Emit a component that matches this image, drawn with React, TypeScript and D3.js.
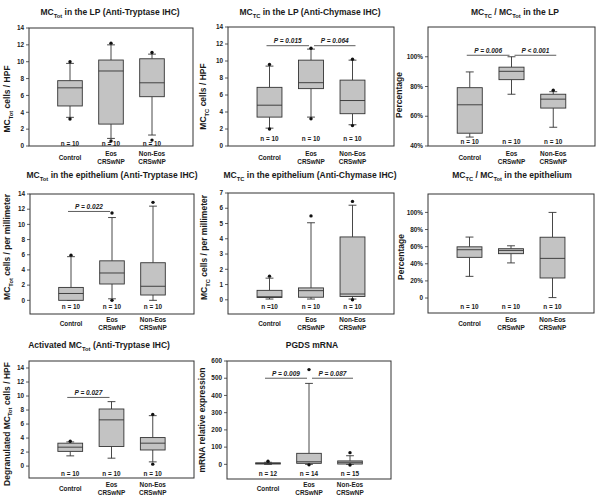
import React from "react";
import * as d3 from "d3";

const FONT = "'Liberation Sans', Arial, Helvetica, sans-serif";

const categories = ["Control", "Eos CRSwNP", "Non-Eos CRSwNP"];
const categoryLines = [["Control"], ["Eos", "CRSwNP"], ["Non-Eos", "CRSwNP"]];

// Box statistics per category: [lower whisker, Q1, median, Q3, upper whisker]
const lpTotStats = [[3.4, 4.75, 6.9, 7.75, 9.8], [0.9, 2.6, 8.9, 10.2, 12.0], [1.3, 5.85, 7.5, 10.35, 10.9]];
const lpTotOutliers = [[3.2, 10.0], [0.6, 12.2], [0.7, 11.1]];
const lpTotN = ["n = 10", "n = 10", "n = 10"];
const lpTotTicks = [0, 2, 4, 6, 8, 10, 12, 14];

const lpTcStats = [[2.1, 3.4, 4.8, 6.9, 9.4], [3.4, 6.75, 7.45, 10.1, 11.4], [2.5, 3.8, 5.35, 7.75, 10.1]];
const lpTcOutliers = [[2.0, 9.6], [3.2, 11.5], [2.4, 10.2]];
const lpTcN = ["n = 10", "n = 10", "n = 10"];
const lpTcTicks = [0, 2, 4, 6, 8, 10, 12, 14];
const lpTcP = [{ from: 0, to: 1, value: 11.8, label: "P = 0.015" }, { from: 1, to: 2, value: 11.8, label: "P = 0.064" }];

const lpRatioStats = [[46, 48.6, 67.7, 79.2, 89.8], [74.8, 84.6, 90.2, 93, 100], [52.6, 65.5, 71.5, 74.8, 76.5]];
const lpRatioOutliers = [[], [], [77.5]];
const lpRatioN = ["n = 10", "n = 10", "n = 10"];
const lpRatioTicks = [40, 60, 80, 100];
const lpRatioP = [{ from: 0, to: 1, value: 101, label: "P = 0.006" }, { from: 1, to: 2, value: 101, label: "P < 0.001" }];

const epTotStats = [[0, 0, 0.9, 1.7, 5.75], [0.2, 2.15, 3.6, 5.2, 10.9], [0, 0.7, 1.85, 4.95, 12.4]];
const epTotOutliers = [[5.95], [0.0, 11.5], [12.9]];
const epTotN = ["n = 10", "n = 10", "n = 10"];
const epTotTicks = [0, 2, 4, 6, 8, 10, 12, 14];
const epTotP = [{ from: 0, to: 1, value: 11.7, label: "P = 0.022" }];

const epTcStats = [[0.05, 0.15, 0.2, 0.62, 1.42], [0.05, 0.17, 0.6, 0.78, 5.05], [0.05, 0.22, 0.38, 4.12, 6.2]];
const epTcOutliers = [[1.55], [5.5], [0.0, 6.45]];
const epTcN = ["n =10", "n = 10", "n = 10"];
const epTcTicks = [0, 1, 2, 3, 4, 5, 6, 7];

const epRatioStats = [[25.3, 47.5, 56.4, 59.8, 71.2], [41, 51.8, 55.6, 57.6, 61], [0.5, 23.4, 46.3, 71, 100]];
const epRatioOutliers = [[], [], []];
const epRatioN = ["n = 10", "n = 10", "n = 10"];
const epRatioTicks = [0, 20, 40, 60, 80, 100];

const actTotStats = [[1.46, 2.1, 2.7, 3.27, 3.45], [1.13, 2.8, 6.6, 8.15, 9.2], [0.6, 2.3, 3.27, 4.07, 7.2]];
const actTotOutliers = [[3.55], [], [0.28, 7.38]];
const actTotN = ["n = 10", "n = 10", "n = 10"];
const actTotTicks = [0, 2, 4, 6, 8, 10, 12, 14];
const actTotP = [{ from: 0, to: 1, value: 9.8, label: "P = 0.027" }];

const pgdsStats = [[0, 2, 5, 9, 12], [0, 6, 15, 64, 470], [0, 2, 12, 20, 50]];
const pgdsOutliers = [[18], [-3, 550], [-4, 68]];
const pgdsN = ["n = 12", "n = 14", "n = 15"];
const pgdsTicks = [0, 100, 200, 300, 400, 500, 600];
const pgdsP = [{ from: 0, to: 1, value: 500, label: "P = 0.009" }, { from: 1, to: 2, value: 500, label: "P = 0.087" }];

const pct = (v: number) => (v === 0 ? "0" : `${v}%`);
const num = (v: number) => `${v}`;

type Part = { t: string; sub?: boolean };

const panels = [
  {
    title: [{ t: "MC" }, { t: "Tot", sub: true }, { t: " in the LP (Anti-Tryptase IHC)" }],
    ylabel: [{ t: "MC" }, { t: "Tot", sub: true }, { t: " cells / HPF" }],
    stats: lpTotStats, outliers: lpTotOutliers, n: lpTotN, ticks: lpTotTicks, fmt: num, pv: [],
    domain: [0, 14], box: { left: 29, right: 193, top: 28, bottom: 146 },
    titleXY: [110, 15], ylabXY: [10, 99], nY: 143.5, catY: 154,
  },
  {
    title: [{ t: "MC" }, { t: "TC", sub: true }, { t: " in the LP (Anti-Chymase IHC)" }],
    ylabel: [{ t: "MC" }, { t: "TC", sub: true }, { t: " cells / HPF" }],
    stats: lpTcStats, outliers: lpTcOutliers, n: lpTcN, ticks: lpTcTicks, fmt: num, pv: lpTcP,
    domain: [0, 14], box: { left: 228, right: 394, top: 27, bottom: 146 },
    titleXY: [310, 15], ylabXY: [206, 96.5], nY: 138.5, catY: 154,
  },
  {
    title: [{ t: "MC" }, { t: "TC", sub: true }, { t: " / MC" }, { t: "Tot", sub: true }, { t: " in the LP" }],
    ylabel: [{ t: "Percentage" }],
    stats: lpRatioStats, outliers: lpRatioOutliers, n: lpRatioN, ticks: lpRatioTicks, fmt: pct, pv: lpRatioP,
    domain: [40, 120], box: { left: 428, right: 595, top: 27, bottom: 146 },
    titleXY: [515, 15], ylabXY: [402, 95], nY: 141.7, catY: 154,
  },
  {
    title: [{ t: "MC" }, { t: "Tot", sub: true }, { t: "  in the epithelium (Anti-Tryptase IHC)" }],
    ylabel: [{ t: "MC" }, { t: "Tot", sub: true }, { t: " cells / per millimeter" }],
    stats: epTotStats, outliers: epTotOutliers, n: epTotN, ticks: epTotTicks, fmt: num, pv: epTotP,
    domain: [-1.8, 14], box: { left: 30, right: 194, top: 194, bottom: 314 },
    titleXY: [112, 178], ylabXY: [10, 247], nY: 306.7, catY: 320,
  },
  {
    title: [{ t: "MC" }, { t: "TC", sub: true }, { t: " in the epithelium (Anti-Chymase IHC)" }],
    ylabel: [{ t: "MC" }, { t: "TC", sub: true }, { t: " cells / per millimeter" }],
    stats: epTcStats, outliers: epTcOutliers, n: epTcN, ticks: epTcTicks, fmt: num, pv: [],
    domain: [-0.93, 7], box: { left: 228, right: 394, top: 193, bottom: 314 },
    titleXY: [310, 178], ylabXY: [207, 247.5], nY: 306.7, catY: 320,
  },
  {
    title: [{ t: "MC" }, { t: "TC", sub: true }, { t: " / MC" }, { t: "Tot", sub: true }, { t: "  in the epithelium" }],
    ylabel: [{ t: "Percentage" }],
    stats: epRatioStats, outliers: epRatioOutliers, n: epRatioN, ticks: epRatioTicks, fmt: pct, pv: [],
    domain: [-17.5, 121.5], box: { left: 428, right: 594, top: 194, bottom: 313 },
    titleXY: [512, 178], ylabXY: [404, 257], nY: 306.7, catY: 320,
  },
  {
    title: [{ t: "Activated MC" }, { t: "Tot", sub: true }, { t: " (Anti-Tryptase IHC)" }],
    ylabel: [{ t: "Degranulated MC" }, { t: "Tot", sub: true }, { t: " cells / HPF" }],
    stats: actTotStats, outliers: actTotOutliers, n: actTotN, ticks: actTotTicks, fmt: num, pv: actTotP,
    domain: [-1.7, 15], box: { left: 29, right: 194, top: 361, bottom: 478 },
    titleXY: [99, 348], ylabXY: [9.5, 424], nY: 474, catY: 485,
  },
  {
    title: [{ t: "PGDS mRNA" }],
    ylabel: [{ t: "mRNA relative expression" }],
    stats: pgdsStats, outliers: pgdsOutliers, n: pgdsN, ticks: pgdsTicks, fmt: num, pv: pgdsP,
    domain: [-85, 600], box: { left: 227, right: 391, top: 361, bottom: 479 },
    titleXY: [312, 348], ylabXY: [205, 420], nY: 473.3, catY: 485,
  },
];

function Rich({ parts, size }: { parts: Part[]; size: number }) {
  const shift = size * 0.3;
  const out: any[] = [];
  let cur = 0;
  parts.forEach((p, i) => {
    const target = p.sub ? shift : 0;
    out.push(
      <tspan key={i} dy={target - cur} fontSize={p.sub ? size * 0.68 : size}>
        {p.t}
      </tspan>
    );
    cur = target;
  });
  return <>{out}</>;
}

const TEXT = "#1a1a1a";
const LINE = "#333";
const FILL = "#c3c3c3";
const SMALL = 6.4;

function Panel({ p }: { p: any }) {
  const { box, domain } = p;
  const y = d3.scaleLinear().domain(domain).range([box.bottom, box.top]);
  const x = d3.scalePoint<string>().domain(categories).range([box.left, box.right]).padding(1);
  const step = x.step();
  const bw = step * 0.6;
  const capW = step * 0.19;
  return (
    <g>
      <text x={p.titleXY[0]} y={p.titleXY[1]} dy="0.35em" textAnchor="middle" fontSize={8.5} fontWeight="bold" fill={TEXT}>
        <Rich parts={p.title} size={8.5} />
      </text>
      <text
        transform={`translate(${p.ylabXY[0]},${p.ylabXY[1]}) rotate(-90)`}
        dy="0.35em"
        textAnchor="middle"
        fontSize={8.5}
        fontWeight="bold"
        fill={TEXT}
      >
        <Rich parts={p.ylabel} size={8.5} />
      </text>
      {p.ticks.map((t: number) => (
        <g key={t}>
          <line x1={box.left - 3} x2={box.left} y1={y(t)} y2={y(t)} stroke={LINE} strokeWidth={0.8} />
          <text x={box.left - 5} y={y(t)} dy="0.35em" textAnchor="end" fontSize={SMALL} fontWeight="bold" fill={TEXT}>
            {p.fmt(t)}
          </text>
        </g>
      ))}
      {categories.map((c, i) => (
        <text key={c} x={x(c)} y={p.nY} dy="0.35em" textAnchor="middle" fontSize={SMALL} fontWeight="bold" fill={TEXT}>
          {p.n[i]}
        </text>
      ))}
      {categories.map((c, i) => {
        const lines = categoryLines[i];
        return lines.map((l, j) => (
          <text
            key={c + j}
            x={x(c)}
            y={lines.length === 1 ? p.catY + 3.5 : p.catY + j * 7.5}
            dy="0.35em"
            textAnchor="middle"
            fontSize={SMALL}
            fontWeight="bold"
            fill={TEXT}
          >
            {l}
          </text>
        ));
      })}
      {p.stats.map((s: number[], i: number) => {
        const cx = x(categories[i]) as number;
        const [lo, q1, med, q3, hi] = s;
        return (
          <g key={i}>
            <line x1={cx} x2={cx} y1={y(hi)} y2={y(q3)} stroke={LINE} strokeWidth={0.9} />
            <line x1={cx} x2={cx} y1={y(q1)} y2={y(lo)} stroke={LINE} strokeWidth={0.9} />
            <line x1={cx - capW / 2} x2={cx + capW / 2} y1={y(hi)} y2={y(hi)} stroke={LINE} strokeWidth={0.9} />
            <line x1={cx - capW / 2} x2={cx + capW / 2} y1={y(lo)} y2={y(lo)} stroke={LINE} strokeWidth={0.9} />
            <rect x={cx - bw / 2} y={y(q3)} width={bw} height={Math.max(0.5, y(q1) - y(q3))} fill={FILL} stroke={LINE} strokeWidth={0.9} />
            <line x1={cx - bw / 2} x2={cx + bw / 2} y1={y(med)} y2={y(med)} stroke={LINE} strokeWidth={0.9} />
            {p.outliers[i].map((o: number, k: number) => (
              <circle key={k} cx={cx} cy={y(o)} r={1.7} fill="#111" />
            ))}
          </g>
        );
      })}
      {p.pv.map((a: any, k: number) => {
        const x1 = (x(categories[a.from]) as number) + (k === 0 ? -3 : 3);
        const x2 = (x(categories[a.to]) as number) + (k === 0 ? -2 : 3);
        return (
          <g key={k}>
            <line x1={x1} x2={x2} y1={y(a.value)} y2={y(a.value)} stroke={LINE} strokeWidth={0.8} />
            <text x={(x1 + x2) / 2} y={y(a.value) - 5} dy="0.35em" textAnchor="middle" fontSize={6.5} fontWeight="bold" fontStyle="italic" fill={TEXT}>
              {a.label}
            </text>
          </g>
        );
      })}
      <rect x={box.left} y={box.top} width={box.right - box.left} height={box.bottom - box.top} fill="none" stroke={LINE} strokeWidth={1} />
    </g>
  );
}

export default function App() {
  return (
    <svg
      width={600}
      height={502}
      viewBox="0 0 600 502"
      style={{ position: "absolute", left: 0, top: 0, background: "#fff" }}
      fontFamily={FONT}
    >
      <rect x={0} y={0} width={600} height={502} fill="#fff" />
      {panels.map((p, i) => (
        <Panel key={i} p={p} />
      ))}
    </svg>
  );
}
